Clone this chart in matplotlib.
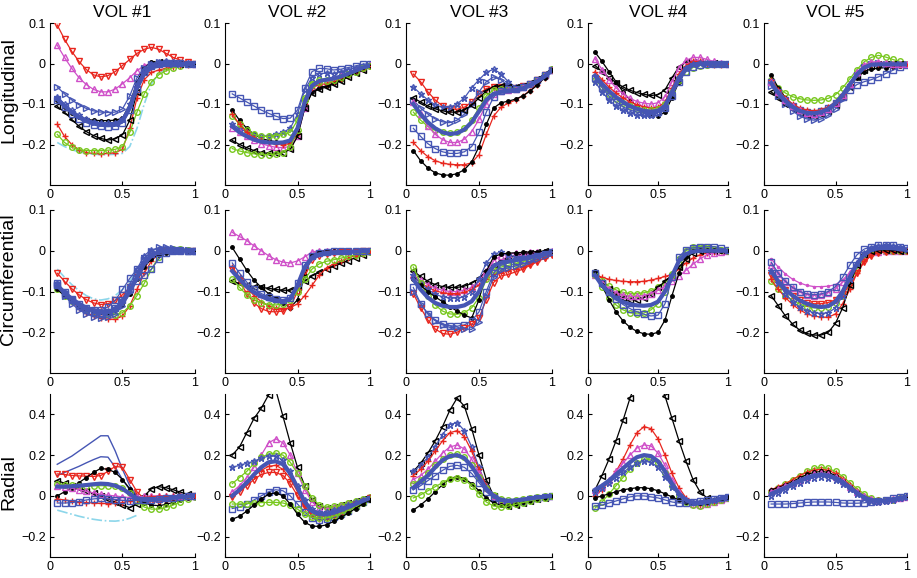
import numpy as np
import matplotlib
matplotlib.use("Agg")
import matplotlib.pyplot as plt

plt.rcParams['font.family'] = ['Liberation Sans', 'DejaVu Sans']

nan = np.nan

# normalised time (markers)
t = [0.05, 0.10, 0.15, 0.20, 0.25, 0.30, 0.35, 0.40, 0.45, 0.50,
     0.55, 0.60, 0.65, 0.70, 0.75, 0.80, 0.85, 0.90, 0.95, 1.00]

vol_titles = ['VOL #1', 'VOL #2', 'VOL #3', 'VOL #4', 'VOL #5']
row_names = ['Longitudinal', 'Circumferential', 'Radial']

# ---------------- Longitudinal ----------------
L1_rv = [0.095, 0.06, 0.03, 0.005, -0.015, -0.028, -0.033, -0.03, -0.02, -0.005, 0.01, 0.025, 0.035, 0.04, 0.035, 0.025, 0.015, 0.008, 0.003, 0.0]
L1_mt = [0.045, 0.015, -0.012, -0.035, -0.052, -0.064, -0.07, -0.07, -0.063, -0.05, -0.035, -0.018, -0.005, 0.0, 0.002, 0.003, 0.003, 0.002, 0.001, 0.0]
L1_bt = [-0.058, -0.075, -0.09, -0.102, -0.111, -0.117, -0.12, -0.121, -0.12, -0.112, -0.08, -0.035, -0.01, 0.0, 0.003, 0.002, 0.0, -0.002, -0.002, 0.0]
L1_bs = [-0.09, -0.108, -0.124, -0.137, -0.146, -0.152, -0.155, -0.156, -0.155, -0.147, -0.115, -0.062, -0.022, -0.006, 0.0, 0.002, 0.002, 0.001, 0.0, 0.0]
L1_bx = [-0.082, -0.1, -0.116, -0.128, -0.138, -0.144, -0.147, -0.148, -0.146, -0.136, -0.1, -0.05, -0.015, -0.002, 0.004, 0.005, 0.004, 0.002, 0.001, 0.0]
L1_kd = [-0.09, -0.108, -0.122, -0.132, -0.138, -0.14, -0.141, -0.141, -0.14, -0.135, -0.1, -0.045, -0.01, 0.003, 0.004, 0.003, 0.002, 0.001, 0.0, 0.0]
L1_kl = [-0.106, -0.12, -0.138, -0.155, -0.168, -0.178, -0.185, -0.189, -0.186, -0.176, -0.14, -0.07, -0.02, 0.0, 0.003, 0.002, 0.001, 0.0, 0.0, 0.0]
L1_go = [-0.175, -0.195, -0.207, -0.213, -0.215, -0.215, -0.215, -0.214, -0.212, -0.205, -0.17, -0.12, -0.075, -0.045, -0.028, -0.018, -0.01, -0.005, -0.002, 0.0]
L1_rp = [-0.15, -0.18, -0.2, -0.213, -0.22, -0.222, -0.223, -0.222, -0.22, -0.212, -0.16, -0.085, -0.04, -0.022, -0.016, -0.012, -0.009, -0.006, -0.003, 0.0]
L1_cy = [-0.195, -0.205, -0.213, -0.218, -0.222, -0.224, -0.225, -0.225, -0.224, -0.222, -0.205, -0.16, -0.1, -0.05, -0.025, -0.012, -0.006, -0.003, -0.001, 0.0]
L1_mean = [-0.088, -0.105, -0.12, -0.132, -0.141, -0.147, -0.15, -0.151, -0.15, -0.142, -0.11, -0.06, -0.025, -0.01, -0.005, -0.003, -0.002, -0.001, -0.001, 0.0]

L2_bs = [-0.075, -0.085, -0.095, -0.105, -0.115, -0.123, -0.13, -0.136, -0.135, -0.115, -0.06, -0.02, -0.012, -0.013, -0.016, -0.014, -0.01, -0.006, -0.002, 0.0]
L2_kd = [-0.115, -0.14, -0.16, -0.175, -0.185, -0.19, -0.193, -0.196, -0.195, -0.17, -0.11, -0.07, -0.06, -0.055, -0.048, -0.04, -0.03, -0.02, -0.012, -0.005]
L2_bx = [-0.15, -0.16, -0.17, -0.177, -0.18, -0.178, -0.175, -0.17, -0.16, -0.125, -0.065, -0.035, -0.025, -0.024, -0.025, -0.02, -0.015, -0.01, -0.005, -0.002]
L2_go1 = [-0.13, -0.15, -0.165, -0.175, -0.18, -0.18, -0.178, -0.175, -0.17, -0.14, -0.085, -0.05, -0.04, -0.04, -0.04, -0.035, -0.028, -0.02, -0.012, -0.005]
L2_mt = [-0.16, -0.17, -0.18, -0.19, -0.198, -0.203, -0.207, -0.208, -0.205, -0.18, -0.11, -0.06, -0.045, -0.042, -0.038, -0.032, -0.025, -0.018, -0.01, -0.004]
L2_rp = [-0.125, -0.15, -0.17, -0.183, -0.19, -0.195, -0.198, -0.2, -0.198, -0.175, -0.1, -0.06, -0.052, -0.05, -0.045, -0.038, -0.03, -0.022, -0.014, -0.006]
L2_kl = [-0.19, -0.2, -0.208, -0.215, -0.22, -0.222, -0.222, -0.22, -0.212, -0.18, -0.11, -0.072, -0.063, -0.058, -0.05, -0.042, -0.033, -0.024, -0.015, -0.007]
L2_go2 = [-0.21, -0.216, -0.22, -0.223, -0.225, -0.225, -0.224, -0.22, -0.207, -0.165, -0.09, -0.052, -0.045, -0.043, -0.04, -0.034, -0.027, -0.02, -0.012, -0.005]
L2_mean = [-0.155, -0.17, -0.18, -0.188, -0.193, -0.195, -0.196, -0.195, -0.19, -0.16, -0.095, -0.055, -0.043, -0.04, -0.037, -0.032, -0.025, -0.018, -0.01, -0.005]

L3_rv = [-0.026, -0.045, -0.07, -0.09, -0.105, -0.112, -0.113, -0.108, -0.095, -0.075, -0.062, -0.057, -0.058, -0.06, -0.06, -0.056, -0.05, -0.04, -0.028, -0.015]
L3_bx = [-0.058, -0.075, -0.09, -0.102, -0.108, -0.108, -0.1, -0.085, -0.06, -0.04, -0.022, -0.014, -0.025, -0.045, -0.058, -0.056, -0.05, -0.042, -0.03, -0.015]
L3_bt = [-0.09, -0.11, -0.125, -0.137, -0.144, -0.146, -0.14, -0.125, -0.1, -0.07, -0.045, -0.033, -0.04, -0.055, -0.06, -0.057, -0.05, -0.042, -0.03, -0.015]
L3_kl = [-0.085, -0.095, -0.105, -0.112, -0.117, -0.12, -0.12, -0.115, -0.103, -0.085, -0.068, -0.057, -0.055, -0.057, -0.058, -0.055, -0.048, -0.038, -0.026, -0.012]
L3_go = [-0.12, -0.14, -0.155, -0.165, -0.17, -0.172, -0.17, -0.16, -0.14, -0.11, -0.08, -0.065, -0.062, -0.063, -0.062, -0.058, -0.05, -0.04, -0.028, -0.014]
L3_mt = [-0.095, -0.125, -0.155, -0.175, -0.188, -0.195, -0.195, -0.187, -0.168, -0.138, -0.1, -0.075, -0.068, -0.066, -0.063, -0.058, -0.05, -0.04, -0.028, -0.015]
L3_bs = [-0.16, -0.18, -0.198, -0.21, -0.218, -0.222, -0.222, -0.218, -0.205, -0.17, -0.12, -0.083, -0.067, -0.063, -0.062, -0.058, -0.05, -0.04, -0.028, -0.015]
L3_rp = [-0.195, -0.215, -0.23, -0.24, -0.246, -0.249, -0.25, -0.25, -0.245, -0.225, -0.175, -0.13, -0.108, -0.098, -0.09, -0.08, -0.067, -0.052, -0.035, -0.017]
L3_kd = [-0.215, -0.24, -0.258, -0.27, -0.275, -0.276, -0.272, -0.262, -0.243, -0.205, -0.15, -0.11, -0.097, -0.093, -0.088, -0.08, -0.068, -0.053, -0.035, -0.016]
L3_mean = [-0.1, -0.125, -0.145, -0.16, -0.17, -0.174, -0.172, -0.163, -0.145, -0.118, -0.09, -0.075, -0.07, -0.069, -0.067, -0.062, -0.054, -0.044, -0.032, -0.017]

L4_kd = [0.028, 0.005, -0.02, -0.045, -0.07, -0.09, -0.105, -0.117, -0.126, -0.13, -0.12, -0.085, -0.045, -0.012, 0.0, 0.003, 0.002, 0.001, 0.0, 0.0]
L4_kl = [-0.005, -0.02, -0.035, -0.047, -0.058, -0.066, -0.072, -0.076, -0.079, -0.077, -0.065, -0.035, -0.008, 0.003, 0.004, 0.003, 0.002, 0.001, 0.0, 0.0]
L4_mt = [0.012, -0.015, -0.04, -0.06, -0.075, -0.086, -0.094, -0.098, -0.1, -0.097, -0.082, -0.045, -0.01, 0.008, 0.015, 0.015, 0.01, 0.005, 0.002, 0.0]
L4_rp = [-0.02, -0.04, -0.058, -0.073, -0.085, -0.095, -0.102, -0.107, -0.11, -0.108, -0.095, -0.06, -0.025, -0.005, 0.005, 0.005, 0.0, -0.003, -0.003, 0.0]
L4_go = [-0.04, -0.058, -0.075, -0.088, -0.098, -0.106, -0.112, -0.115, -0.115, -0.112, -0.1, -0.07, -0.04, -0.02, -0.01, -0.005, -0.003, -0.002, -0.001, 0.0]
L4_bx = [-0.045, -0.07, -0.09, -0.105, -0.115, -0.122, -0.127, -0.128, -0.127, -0.122, -0.108, -0.072, -0.035, -0.01, 0.0, 0.002, 0.001, 0.0, 0.0, 0.0]
L4_bs = [-0.035, -0.06, -0.08, -0.095, -0.107, -0.115, -0.12, -0.123, -0.124, -0.12, -0.11, -0.08, -0.045, -0.02, -0.008, -0.003, 0.0, 0.0, 0.0, 0.0]
L4_mean = [-0.03, -0.05, -0.068, -0.083, -0.095, -0.105, -0.112, -0.117, -0.119, -0.117, -0.105, -0.07, -0.035, -0.012, -0.003, 0.0, 0.0, 0.0, 0.0, 0.0]

L5_go = [-0.04, -0.06, -0.073, -0.082, -0.087, -0.09, -0.091, -0.09, -0.086, -0.077, -0.06, -0.038, -0.015, 0.004, 0.015, 0.02, 0.016, 0.01, 0.005, 0.0]
L5_kd = [-0.028, -0.06, -0.085, -0.102, -0.113, -0.118, -0.12, -0.118, -0.11, -0.097, -0.078, -0.055, -0.035, -0.02, -0.013, -0.012, -0.01, -0.008, -0.005, -0.003]
L5_kl = [-0.07, -0.085, -0.1, -0.113, -0.122, -0.127, -0.128, -0.125, -0.117, -0.103, -0.082, -0.057, -0.033, -0.015, -0.005, -0.002, -0.002, -0.002, -0.002, -0.002]
L5_bs = [-0.045, -0.07, -0.09, -0.105, -0.115, -0.12, -0.121, -0.118, -0.11, -0.098, -0.082, -0.065, -0.052, -0.045, -0.04, -0.033, -0.025, -0.017, -0.009, -0.003]
L5_bt = [-0.055, -0.08, -0.1, -0.117, -0.13, -0.137, -0.14, -0.137, -0.128, -0.112, -0.088, -0.058, -0.028, -0.008, 0.0, 0.001, 0.0, -0.001, -0.001, 0.0]
L5_rp = [-0.04, -0.065, -0.085, -0.1, -0.11, -0.115, -0.117, -0.114, -0.107, -0.094, -0.075, -0.05, -0.025, -0.008, 0.0, 0.0, -0.002, -0.003, -0.003, -0.002]
L5_mt = [-0.045, -0.07, -0.09, -0.105, -0.116, -0.122, -0.124, -0.12, -0.112, -0.098, -0.078, -0.05, -0.022, -0.004, 0.004, 0.004, 0.002, 0.0, -0.001, -0.001]
L5_mean = [-0.048, -0.072, -0.092, -0.107, -0.117, -0.122, -0.123, -0.12, -0.112, -0.098, -0.078, -0.052, -0.027, -0.01, -0.003, -0.002, -0.002, -0.002, -0.002, -0.002]

# ---------------- Circumferential ----------------
C1_cy = [-0.045, -0.065, -0.083, -0.098, -0.11, -0.118, -0.121, -0.118, -0.11, -0.095, -0.075, -0.05, -0.025, -0.01, -0.003, 0.0, 0.0, 0.0, 0.0, 0.0]
C1_rv = [-0.055, -0.075, -0.093, -0.108, -0.12, -0.128, -0.132, -0.13, -0.122, -0.108, -0.09, -0.065, -0.035, -0.012, -0.003, 0.0, 0.0, 0.0, 0.0, 0.0]
C1_bs1 = [-0.08, -0.1, -0.118, -0.13, -0.14, -0.145, -0.145, -0.138, -0.122, -0.095, -0.068, -0.045, -0.022, -0.008, 0.0, 0.002, 0.002, 0.001, 0.0, 0.0]
C1_bs2 = [-0.085, -0.105, -0.122, -0.135, -0.145, -0.15, -0.152, -0.15, -0.14, -0.12, -0.095, -0.075, -0.06, -0.045, -0.02, -0.005, 0.0, 0.0, 0.0, 0.0]
C1_rp = [-0.09, -0.108, -0.125, -0.14, -0.152, -0.16, -0.165, -0.168, -0.168, -0.16, -0.135, -0.095, -0.055, -0.025, -0.008, 0.0, 0.002, 0.001, 0.0, 0.0]
C1_bt = [-0.085, -0.11, -0.13, -0.145, -0.155, -0.162, -0.165, -0.163, -0.155, -0.135, -0.1, -0.055, -0.02, 0.0, 0.008, 0.01, 0.006, 0.003, 0.001, 0.0]
C1_go = [-0.095, -0.11, -0.123, -0.135, -0.144, -0.15, -0.154, -0.156, -0.157, -0.152, -0.135, -0.11, -0.08, -0.045, -0.015, 0.0, 0.005, 0.005, 0.003, 0.0]
C1_kd = [-0.095, -0.11, -0.124, -0.135, -0.143, -0.148, -0.15, -0.15, -0.146, -0.132, -0.105, -0.07, -0.04, -0.02, -0.01, -0.006, -0.004, -0.002, -0.001, 0.0]
C1_bx = [-0.08, -0.1, -0.118, -0.132, -0.142, -0.148, -0.15, -0.148, -0.14, -0.12, -0.085, -0.045, -0.012, 0.003, 0.005, 0.003, 0.002, 0.001, 0.0, 0.0]
C1_mean = [-0.085, -0.103, -0.118, -0.13, -0.14, -0.146, -0.149, -0.15, -0.145, -0.128, -0.1, -0.065, -0.032, -0.012, -0.003, 0.0, 0.0, 0.0, 0.0, 0.0]

C2_mt = [0.045, 0.035, 0.025, 0.012, 0.0, -0.012, -0.022, -0.028, -0.03, -0.025, -0.015, -0.003, 0.0, 0.0, 0.0, 0.0, 0.0, 0.0, 0.0, 0.0]
C2_kd = [0.008, -0.02, -0.048, -0.072, -0.09, -0.105, -0.117, -0.128, -0.14, -0.12, -0.06, -0.01, -0.002, 0.0, 0.0, 0.0, 0.0, 0.0, 0.0, 0.0]
C2_kl = [-0.075, -0.08, -0.085, -0.088, -0.09, -0.092, -0.095, -0.097, -0.097, -0.09, -0.075, -0.062, -0.053, -0.045, -0.038, -0.031, -0.024, -0.017, -0.01, -0.004]
C2_rp = [-0.04, -0.065, -0.09, -0.11, -0.125, -0.135, -0.14, -0.142, -0.14, -0.13, -0.11, -0.085, -0.06, -0.042, -0.032, -0.025, -0.018, -0.012, -0.007, -0.003]
C2_rv = [-0.045, -0.075, -0.105, -0.128, -0.142, -0.149, -0.15, -0.148, -0.138, -0.1, -0.05, -0.022, -0.012, -0.008, -0.006, -0.004, -0.003, -0.002, -0.001, 0.0]
C2_go = [-0.07, -0.09, -0.108, -0.12, -0.128, -0.132, -0.133, -0.13, -0.122, -0.1, -0.07, -0.045, -0.032, -0.026, -0.022, -0.018, -0.014, -0.01, -0.006, -0.003]
C2_bs = [-0.03, -0.055, -0.077, -0.093, -0.105, -0.113, -0.118, -0.12, -0.117, -0.08, -0.035, -0.012, -0.005, -0.002, 0.0, 0.0, 0.0, 0.0, 0.0, 0.0]
C2_mean = [-0.05, -0.07, -0.088, -0.102, -0.112, -0.119, -0.123, -0.124, -0.118, -0.085, -0.04, -0.018, -0.01, -0.007, -0.005, -0.004, -0.003, -0.002, -0.001, 0.0]

C3_kl = [-0.05, -0.063, -0.075, -0.083, -0.088, -0.09, -0.09, -0.087, -0.08, -0.068, -0.05, -0.035, -0.025, -0.018, -0.012, -0.008, -0.005, -0.003, -0.001, 0.0]
C3_mt = [-0.06, -0.072, -0.083, -0.092, -0.097, -0.1, -0.1, -0.097, -0.09, -0.075, -0.05, -0.025, -0.012, -0.008, -0.006, -0.005, -0.004, -0.003, -0.002, 0.0]
C3_rp = [-0.065, -0.078, -0.09, -0.098, -0.103, -0.105, -0.105, -0.102, -0.095, -0.085, -0.07, -0.058, -0.052, -0.048, -0.045, -0.04, -0.033, -0.025, -0.017, -0.008]
C3_bx = [-0.06, -0.08, -0.095, -0.107, -0.113, -0.116, -0.116, -0.113, -0.1, -0.07, -0.03, -0.008, -0.004, -0.01, -0.015, -0.016, -0.014, -0.01, -0.006, -0.002]
C3_go = [-0.04, -0.08, -0.11, -0.133, -0.148, -0.155, -0.156, -0.152, -0.14, -0.115, -0.07, -0.047, -0.04, -0.036, -0.032, -0.027, -0.021, -0.015, -0.009, -0.004]
C3_kd = [-0.07, -0.085, -0.1, -0.113, -0.125, -0.137, -0.148, -0.158, -0.165, -0.12, -0.05, -0.015, -0.008, -0.006, -0.005, -0.004, -0.003, -0.002, -0.001, 0.0]
C3_bs = [-0.09, -0.13, -0.155, -0.17, -0.18, -0.184, -0.185, -0.182, -0.172, -0.15, -0.1, -0.055, -0.036, -0.03, -0.026, -0.022, -0.017, -0.012, -0.007, -0.003]
C3_rv = [-0.105, -0.14, -0.17, -0.192, -0.203, -0.205, -0.2, -0.19, -0.18, -0.165, -0.12, -0.078, -0.062, -0.058, -0.052, -0.045, -0.036, -0.027, -0.018, -0.01]
C3_bt = [-0.1, -0.13, -0.155, -0.172, -0.182, -0.188, -0.19, -0.192, -0.193, -0.175, -0.11, -0.065, -0.048, -0.042, -0.037, -0.032, -0.026, -0.02, -0.013, -0.006]
C3_mean = [-0.07, -0.095, -0.115, -0.128, -0.135, -0.138, -0.138, -0.134, -0.124, -0.1, -0.062, -0.037, -0.029, -0.026, -0.023, -0.02, -0.016, -0.012, -0.008, -0.004]

C4_rp = [-0.058, -0.065, -0.07, -0.073, -0.075, -0.076, -0.076, -0.075, -0.072, -0.068, -0.063, -0.058, -0.045, -0.03, -0.018, -0.01, -0.005, -0.002, -0.001, 0.0]
C4_go1 = [-0.06, -0.075, -0.087, -0.096, -0.102, -0.105, -0.105, -0.103, -0.098, -0.09, -0.078, -0.058, -0.032, -0.01, 0.005, 0.01, 0.008, 0.004, 0.002, 0.0]
C4_kl = [-0.06, -0.08, -0.095, -0.107, -0.115, -0.12, -0.12, -0.115, -0.105, -0.09, -0.075, -0.06, -0.04, -0.02, -0.005, 0.0, 0.0, 0.0, 0.0, 0.0]
C4_mt = [-0.06, -0.078, -0.093, -0.103, -0.109, -0.112, -0.112, -0.11, -0.105, -0.097, -0.087, -0.075, -0.062, -0.048, -0.033, -0.02, -0.01, -0.005, -0.002, 0.0]
C4_go2 = [-0.06, -0.09, -0.115, -0.133, -0.145, -0.152, -0.155, -0.153, -0.145, -0.13, -0.1, -0.06, -0.02, 0.0, 0.008, 0.01, 0.008, 0.004, 0.002, 0.0]
C4_bs = [-0.055, -0.08, -0.1, -0.118, -0.132, -0.142, -0.15, -0.156, -0.16, -0.158, -0.13, -0.065, -0.015, 0.003, 0.007, 0.008, 0.01, 0.01, 0.006, 0.002]
C4_kd = [-0.05, -0.085, -0.12, -0.15, -0.172, -0.188, -0.198, -0.204, -0.205, -0.2, -0.17, -0.11, -0.055, -0.015, 0.0, 0.003, 0.002, 0.001, 0.0, 0.0]
C4_mean = [-0.06, -0.085, -0.103, -0.117, -0.126, -0.131, -0.134, -0.135, -0.133, -0.125, -0.1, -0.062, -0.025, -0.008, -0.002, 0.0, 0.0, 0.0, 0.0, 0.0]

C5_md = [-0.02, -0.04, -0.057, -0.07, -0.079, -0.085, -0.088, -0.088, -0.087, -0.083, -0.072, -0.053, -0.032, -0.016, -0.008, -0.005, -0.004, -0.003, -0.002, 0.0]
C5_mt = [-0.035, -0.058, -0.077, -0.092, -0.102, -0.108, -0.11, -0.108, -0.103, -0.093, -0.077, -0.055, -0.03, -0.012, -0.004, -0.002, -0.001, 0.0, 0.0, 0.0]
C5_bs = [-0.028, -0.055, -0.075, -0.09, -0.1, -0.106, -0.108, -0.106, -0.1, -0.088, -0.065, -0.035, -0.01, 0.004, 0.01, 0.013, 0.015, 0.013, 0.01, 0.006]
C5_go = [-0.075, -0.095, -0.11, -0.122, -0.131, -0.137, -0.14, -0.14, -0.137, -0.128, -0.11, -0.08, -0.045, -0.018, -0.005, -0.001, 0.0, 0.0, 0.0, 0.0]
C5_bx = [-0.05, -0.08, -0.105, -0.125, -0.138, -0.147, -0.152, -0.154, -0.152, -0.14, -0.11, -0.07, -0.03, -0.005, 0.007, 0.012, 0.013, 0.012, 0.009, 0.005]
C5_rv = [-0.06, -0.08, -0.097, -0.11, -0.12, -0.127, -0.13, -0.13, -0.127, -0.12, -0.105, -0.085, -0.055, -0.028, -0.012, -0.005, -0.002, -0.001, 0.0, 0.0]
C5_rp = [-0.07, -0.095, -0.115, -0.132, -0.145, -0.155, -0.16, -0.163, -0.163, -0.155, -0.13, -0.095, -0.055, -0.025, -0.01, -0.004, -0.002, -0.001, 0.0, 0.0]
C5_kl = [-0.11, -0.135, -0.16, -0.18, -0.195, -0.203, -0.207, -0.207, -0.2, -0.178, -0.14, -0.085, -0.035, -0.008, 0.0, 0.002, 0.002, 0.001, 0.0, 0.0]
C5_mean = [-0.05, -0.075, -0.095, -0.11, -0.122, -0.13, -0.136, -0.138, -0.136, -0.125, -0.1, -0.065, -0.032, -0.01, 0.002, 0.006, 0.007, 0.006, 0.004, 0.002]

# ---------------- Radial ----------------
R1_b1 = [0.155, 0.175, 0.195, 0.22, 0.245, 0.27, 0.295, 0.295, 0.22, 0.13, 0.05, 0.0, -0.015, -0.015, -0.01, -0.008, -0.005, -0.003, -0.001, 0.0]
R1_b2 = [0.1, 0.115, 0.13, 0.145, 0.162, 0.178, 0.192, 0.19, 0.14, 0.08, 0.03, 0.0, -0.012, -0.012, -0.008, -0.005, -0.003, -0.002, -0.001, 0.0]
R1_rv = [0.108, 0.105, 0.1, 0.098, 0.097, 0.095, 0.1, 0.12, 0.145, 0.14, 0.08, 0.02, -0.015, -0.028, -0.03, -0.025, -0.018, -0.01, -0.004, 0.0]
R1_kd = [0.0, 0.02, 0.04, 0.065, 0.09, 0.115, 0.135, 0.13, 0.115, 0.08, 0.035, -0.01, -0.035, -0.045, -0.048, -0.042, -0.032, -0.02, -0.01, 0.0]
R1_kl = [0.075, 0.062, 0.05, 0.038, 0.025, 0.012, 0.0, -0.015, -0.03, -0.045, -0.058, -0.04, 0.0, 0.035, 0.045, 0.04, 0.03, 0.018, 0.008, 0.0]
R1_go = [0.06, 0.055, 0.052, 0.05, 0.05, 0.05, 0.05, 0.05, 0.048, 0.04, 0.015, -0.025, -0.055, -0.065, -0.065, -0.057, -0.045, -0.03, -0.015, -0.005]
R1_mt = [0.05, 0.045, 0.038, 0.03, 0.022, 0.015, 0.008, 0.003, 0.0, -0.005, -0.008, -0.006, -0.002, 0.0, 0.0, 0.0, 0.0, 0.0, 0.0, 0.0]
R1_bs = [-0.035, -0.035, -0.033, -0.028, -0.02, -0.015, -0.012, -0.014, -0.018, -0.022, -0.023, -0.022, -0.02, -0.018, -0.015, -0.012, -0.008, -0.005, -0.002, 0.0]
R1_rp = [-0.015, -0.02, -0.025, -0.03, -0.033, -0.035, -0.037, -0.038, -0.037, -0.033, -0.025, -0.015, -0.008, -0.004, -0.002, 0.0, 0.0, 0.0, 0.0, 0.0]
R1_cy = [-0.07, -0.08, -0.09, -0.1, -0.108, -0.115, -0.12, -0.123, -0.124, -0.12, -0.11, -0.095, nan, nan, nan, nan, nan, nan, nan, nan]
R1_mean = [0.045, 0.045, 0.047, 0.05, 0.053, 0.057, 0.06, 0.058, 0.05, 0.035, 0.01, -0.012, -0.02, -0.02, -0.018, -0.015, -0.01, -0.006, -0.003, 0.0]

R2_kl = [0.2, 0.24, 0.31, 0.38, 0.43, 0.495, 0.52, 0.39, 0.26, 0.14, 0.05, -0.02, -0.05, -0.06, -0.055, -0.045, -0.035, -0.025, -0.015, -0.006]
R2_mt = [0.02, 0.05, 0.09, 0.14, 0.2, 0.26, 0.28, 0.26, 0.2, 0.11, 0.03, -0.03, -0.058, -0.062, -0.055, -0.045, -0.035, -0.025, -0.015, -0.005]
R2_go1 = [0.06, 0.09, 0.12, 0.16, 0.19, 0.205, 0.21, 0.2, 0.165, 0.11, 0.05, -0.01, -0.045, -0.055, -0.052, -0.045, -0.035, -0.025, -0.015, -0.006]
R2_bx = [0.14, 0.15, 0.16, 0.17, 0.185, 0.195, 0.195, 0.175, 0.12, 0.05, -0.02, -0.065, -0.08, -0.08, -0.07, -0.058, -0.045, -0.032, -0.02, -0.008]
R2_rv = [-0.005, 0.02, 0.05, 0.08, 0.105, 0.115, 0.115, 0.1, 0.06, 0.0, -0.055, -0.09, -0.1, -0.1, -0.092, -0.078, -0.062, -0.045, -0.028, -0.012]
R2_rp = [0.0, 0.035, 0.07, 0.1, 0.125, 0.145, 0.15, 0.13, 0.085, 0.02, -0.05, -0.1, -0.115, -0.115, -0.105, -0.09, -0.072, -0.052, -0.032, -0.014]
R2_bs = [-0.062, -0.055, -0.04, -0.02, 0.0, 0.02, 0.03, 0.025, 0.0, -0.04, -0.08, -0.108, -0.118, -0.115, -0.105, -0.09, -0.072, -0.052, -0.032, -0.014]
R2_go2 = [-0.04, -0.04, -0.038, -0.035, -0.033, -0.032, -0.032, -0.035, -0.045, -0.065, -0.09, -0.105, -0.11, -0.108, -0.1, -0.088, -0.072, -0.055, -0.035, -0.015]
R2_kd = [-0.115, -0.1, -0.075, -0.045, -0.015, 0.008, 0.015, 0.0, -0.04, -0.09, -0.13, -0.148, -0.15, -0.142, -0.125, -0.105, -0.085, -0.062, -0.04, -0.018]
R2_mean = [0.0, 0.03, 0.065, 0.105, 0.14, 0.165, 0.17, 0.155, 0.11, 0.04, -0.03, -0.075, -0.09, -0.09, -0.082, -0.07, -0.055, -0.04, -0.025, -0.01]

R3_kl = [0.12, 0.16, 0.21, 0.27, 0.34, 0.42, 0.48, 0.44, 0.33, 0.2, 0.08, 0.0, -0.04, -0.05, -0.045, -0.035, -0.025, -0.015, -0.008, -0.003]
R3_bx = [0.12, 0.15, 0.19, 0.24, 0.3, 0.35, 0.36, 0.32, 0.24, 0.14, 0.05, -0.01, -0.035, -0.04, -0.035, -0.028, -0.02, -0.012, -0.006, -0.002]
R3_rp = [0.1, 0.13, 0.17, 0.22, 0.27, 0.31, 0.32, 0.29, 0.22, 0.13, 0.05, 0.0, -0.025, -0.035, -0.032, -0.026, -0.018, -0.01, -0.005, -0.002]
R3_mt = [0.08, 0.1, 0.13, 0.17, 0.21, 0.24, 0.25, 0.23, 0.18, 0.11, 0.04, 0.0, -0.02, -0.028, -0.028, -0.022, -0.016, -0.01, -0.005, -0.002]
R3_go1 = [0.06, 0.08, 0.11, 0.15, 0.18, 0.2, 0.205, 0.19, 0.15, 0.095, 0.04, 0.005, -0.015, -0.022, -0.02, -0.016, -0.012, -0.007, -0.003, -0.001]
R3_bs = [0.03, 0.05, 0.075, 0.1, 0.125, 0.145, 0.15, 0.14, 0.11, 0.065, 0.02, -0.01, -0.025, -0.03, -0.028, -0.023, -0.017, -0.01, -0.005, -0.002]
R3_kd = [-0.07, -0.045, -0.015, 0.02, 0.055, 0.085, 0.095, 0.085, 0.06, 0.025, -0.01, -0.035, -0.045, -0.045, -0.04, -0.032, -0.024, -0.016, -0.008, -0.003]
R3_go2 = [-0.01, 0.005, 0.025, 0.045, 0.065, 0.085, 0.09, 0.08, 0.05, 0.01, -0.03, -0.05, -0.055, -0.05, -0.042, -0.033, -0.024, -0.016, -0.008, -0.003]
R3_mean = [0.04, 0.07, 0.1, 0.14, 0.175, 0.195, 0.2, 0.185, 0.145, 0.09, 0.035, 0.0, -0.02, -0.025, -0.022, -0.018, -0.013, -0.008, -0.004, -0.001]

R4_kl = [0.03, 0.1, 0.18, 0.27, 0.37, 0.48, 0.57, 0.62, 0.62, 0.57, 0.49, 0.38, 0.27, 0.17, 0.08, 0.02, -0.01, -0.02, -0.015, -0.008]
R4_rp = [0.0, 0.03, 0.07, 0.12, 0.18, 0.25, 0.31, 0.34, 0.33, 0.28, 0.2, 0.11, 0.04, -0.01, -0.035, -0.045, -0.04, -0.03, -0.018, -0.008]
R4_mt = [0.03, 0.05, 0.08, 0.12, 0.16, 0.2, 0.235, 0.25, 0.245, 0.21, 0.15, 0.08, 0.02, -0.02, -0.04, -0.045, -0.04, -0.03, -0.018, -0.008]
R4_go = [-0.06, -0.03, 0.01, 0.05, 0.09, 0.13, 0.16, 0.18, 0.18, 0.16, 0.11, 0.05, 0.0, -0.03, -0.045, -0.048, -0.042, -0.032, -0.02, -0.008]
R4_bx = [0.02, 0.04, 0.065, 0.09, 0.115, 0.14, 0.16, 0.17, 0.165, 0.14, 0.095, 0.045, 0.005, -0.02, -0.03, -0.032, -0.028, -0.02, -0.012, -0.005]
R4_kd = [-0.01, 0.0, 0.01, 0.02, 0.03, 0.035, 0.04, 0.04, 0.035, 0.025, 0.01, -0.005, -0.02, -0.03, -0.035, -0.035, -0.03, -0.022, -0.013, -0.005]
R4_bs = [-0.05, -0.045, -0.035, -0.025, -0.015, -0.005, 0.0, 0.0, -0.005, -0.01, -0.02, -0.03, -0.035, -0.035, -0.03, -0.025, -0.02, -0.015, -0.01, -0.005]
R4_mean = [0.03, 0.05, 0.075, 0.105, 0.135, 0.165, 0.19, 0.2, 0.195, 0.17, 0.12, 0.06, 0.01, -0.02, -0.035, -0.035, -0.03, -0.022, -0.013, -0.005]

R5_go = [0.02, 0.04, 0.06, 0.08, 0.1, 0.12, 0.135, 0.14, 0.135, 0.12, 0.095, 0.065, 0.035, 0.01, -0.01, -0.02, -0.022, -0.018, -0.01, -0.004]
R5_rp = [0.03, 0.045, 0.06, 0.08, 0.1, 0.115, 0.127, 0.13, 0.125, 0.11, 0.085, 0.055, 0.025, 0.0, -0.015, -0.022, -0.022, -0.017, -0.01, -0.004]
R5_kd = [0.03, 0.04, 0.055, 0.07, 0.088, 0.105, 0.115, 0.12, 0.115, 0.1, 0.075, 0.045, 0.018, -0.005, -0.018, -0.022, -0.02, -0.015, -0.008, -0.003]
R5_mt = [0.02, 0.035, 0.05, 0.065, 0.08, 0.095, 0.105, 0.11, 0.105, 0.093, 0.072, 0.046, 0.02, -0.003, -0.017, -0.023, -0.022, -0.017, -0.01, -0.004]
R5_bx = [0.0, 0.015, 0.03, 0.048, 0.065, 0.08, 0.09, 0.095, 0.09, 0.078, 0.058, 0.033, 0.008, -0.012, -0.025, -0.03, -0.027, -0.02, -0.012, -0.005]
R5_bs = [-0.04, -0.04, -0.04, -0.038, -0.035, -0.032, -0.03, -0.03, -0.03, -0.032, -0.035, -0.036, -0.036, -0.034, -0.03, -0.025, -0.018, -0.012, -0.007, -0.003]
R5_mean = [0.01, 0.025, 0.04, 0.058, 0.075, 0.09, 0.1, 0.105, 0.1, 0.088, 0.068, 0.042, 0.015, -0.008, -0.02, -0.025, -0.023, -0.017, -0.01, -0.004]

# ---------------- styles ----------------
RED = '#e8261e'
MAG = '#cf4fc8'
GRN = '#78c81e'
BLU = '#4656b4'
CYN = '#8cd6ea'

styles = {
    'r+': dict(color=RED, marker='+', ms=4.5),
    'rv': dict(color=RED, marker='v', ms=4.5),
    'm^': dict(color=MAG, marker='^', ms=4.5),
    'm.': dict(color=MAG, marker='.', ms=3),
    'go': dict(color=GRN, marker='o', ms=4),
    'k.': dict(color='k', marker='.', ms=5),
    'k<': dict(color='k', marker='<', ms=4.5),
    'bs': dict(color=BLU, marker='s', ms=4),
    'b*': dict(color=BLU, marker='*', ms=5),
    'b>': dict(color=BLU, marker='>', ms=4.5),
}

panels = [
    [
        [(L1_rv, 'rv'), (L1_mt, 'm^'), (L1_cy, 'cy'), (L1_rp, 'r+'), (L1_go, 'go'), (L1_kl, 'k<'),
         (L1_kd, 'k.'), (L1_bs, 'bs'), (L1_bx, 'b*'), (L1_bt, 'b>'), (L1_mean, 'mean')],
        [(L2_bs, 'bs'), (L2_kd, 'k.'), (L2_bx, 'b*'), (L2_go1, 'go'), (L2_mt, 'm^'), (L2_rp, 'r+'),
         (L2_kl, 'k<'), (L2_go2, 'go'), (L2_mean, 'mean')],
        [(L3_rv, 'rv'), (L3_bx, 'b*'), (L3_bt, 'b>'), (L3_kl, 'k<'), (L3_go, 'go'), (L3_mt, 'm^'),
         (L3_bs, 'bs'), (L3_rp, 'r+'), (L3_kd, 'k.'), (L3_mean, 'mean')],
        [(L4_kd, 'k.'), (L4_kl, 'k<'), (L4_mt, 'm^'), (L4_rp, 'r+'), (L4_go, 'go'), (L4_bx, 'b*'),
         (L4_bs, 'bs'), (L4_mean, 'mean')],
        [(L5_go, 'go'), (L5_kd, 'k.'), (L5_kl, 'k<'), (L5_bs, 'bs'), (L5_bt, 'b>'), (L5_rp, 'r+'),
         (L5_mt, 'm^'), (L5_mean, 'mean')],
    ],
    [
        [(C1_cy, 'cy'), (C1_rv, 'rv'), (C1_rp, 'r+'), (C1_go, 'go'), (C1_kd, 'k.'), (C1_bs1, 'bs'),
         (C1_bs2, 'bs'), (C1_bt, 'b>'), (C1_bx, 'b*'), (C1_mean, 'mean')],
        [(C2_mt, 'm^'), (C2_kd, 'k.'), (C2_kl, 'k<'), (C2_rp, 'r+'), (C2_rv, 'rv'), (C2_go, 'go'),
         (C2_bs, 'bs'), (C2_mean, 'mean')],
        [(C3_kl, 'k<'), (C3_mt, 'm^'), (C3_rp, 'r+'), (C3_bx, 'b*'), (C3_go, 'go'), (C3_kd, 'k.'),
         (C3_bs, 'bs'), (C3_rv, 'rv'), (C3_bt, 'b>'), (C3_mean, 'mean')],
        [(C4_rp, 'r+'), (C4_go1, 'go'), (C4_kl, 'k<'), (C4_mt, 'm^'), (C4_go2, 'go'), (C4_kd, 'k.'),
         (C4_bs, 'bs'), (C4_mean, 'mean')],
        [(C5_md, 'm.'), (C5_mt, 'm^'), (C5_go, 'go'), (C5_rv, 'rv'), (C5_rp, 'r+'), (C5_kl, 'k<'),
         (C5_bs, 'bs'), (C5_bx, 'b*'), (C5_mean, 'mean')],
    ],
    [
        [(R1_cy, 'cy'), (R1_b1, 'bl'), (R1_b2, 'bl'), (R1_rv, 'rv'), (R1_kd, 'k.'), (R1_kl, 'k<'),
         (R1_go, 'go'), (R1_mt, 'm^'), (R1_rp, 'r+'), (R1_bs, 'bs'), (R1_mean, 'mean')],
        [(R2_kl, 'k<'), (R2_mt, 'm^'), (R2_go1, 'go'), (R2_bx, 'b*'), (R2_rv, 'rv'), (R2_rp, 'r+'),
         (R2_bs, 'bs'), (R2_go2, 'go'), (R2_kd, 'k.'), (R2_mean, 'mean')],
        [(R3_kl, 'k<'), (R3_bx, 'b*'), (R3_rp, 'r+'), (R3_mt, 'm^'), (R3_go1, 'go'), (R3_bs, 'bs'),
         (R3_kd, 'k.'), (R3_go2, 'go'), (R3_mean, 'mean')],
        [(R4_kl, 'k<'), (R4_rp, 'r+'), (R4_mt, 'm^'), (R4_go, 'go'), (R4_bx, 'b*'), (R4_kd, 'k.'),
         (R4_bs, 'bs'), (R4_mean, 'mean')],
        [(R5_go, 'go'), (R5_rp, 'r+'), (R5_kd, 'k.'), (R5_mt, 'm^'), (R5_bx, 'b*'), (R5_bs, 'bs'),
         (R5_mean, 'mean')],
    ],
]

# axes boxes in pixels (917 x 578 canvas)
col_left = [50, 225, 406, 588, 764]
col_width = [145, 145, 146, 140, 143]
row_top = [23, 210, 394]
row_bottom = [185, 373, 557]
W, H = 917.0, 578.0

fig = plt.figure(figsize=(9.17, 5.78), dpi=100)

for r in range(3):
    for c in range(5):
        ax = fig.add_axes([col_left[c] / W, 1 - row_bottom[r] / H,
                           col_width[c] / W, (row_bottom[r] - row_top[r]) / H])
        for vals, key in panels[r][c]:
            y = np.array(vals, dtype=float)
            if key == 'mean':
                ax.plot(t, y, color=BLU, lw=3, zorder=5)
            elif key == 'cy':
                ax.plot(t, y, color=CYN, ls='-.', lw=1.2)
            elif key == 'bl':
                ax.plot(t, y, color=BLU, lw=1.0)
            else:
                s = styles[key]
                mfc = s['color'] if s['marker'] == '.' else 'none'
                ax.plot(t, y, color=s['color'], lw=0.9, marker=s['marker'],
                        ms=s['ms'], mfc=mfc, mew=1.0)

        ax.set_xlim(0, 1)
        ax.set_xticks([0, 0.5, 1])
        ax.set_xticklabels(['0', '0.5', '1'])
        if r < 2:
            ax.set_ylim(-0.3, 0.1)
            ax.set_yticks([-0.2, -0.1, 0, 0.1])
            ax.set_yticklabels(['\u22120.2', '\u22120.1', '0', '0.1'])
        else:
            ax.set_ylim(-0.3, 0.5)
            ax.set_yticks([-0.2, 0, 0.2, 0.4])
            ax.set_yticklabels(['\u22120.2', '0', '0.2', '0.4'])

        ax.spines['top'].set_visible(False)
        ax.spines['right'].set_visible(False)
        ax.tick_params(direction='in', length=3, labelsize=9, pad=3)
        if r == 0:
            ax.set_title(vol_titles[c], fontsize=12.5, pad=4)

fig.text(9 / W, 1 - 90 / H, row_names[0], rotation=90, fontsize=14, ha='center', va='center')
fig.text(9 / W, 1 - 279 / H, row_names[1], rotation=90, fontsize=14, ha='center', va='center')
fig.text(9 / W, 1 - 482 / H, row_names[2], rotation=90, fontsize=14, ha='center', va='center')

fig.savefig('out.png', dpi=100)
